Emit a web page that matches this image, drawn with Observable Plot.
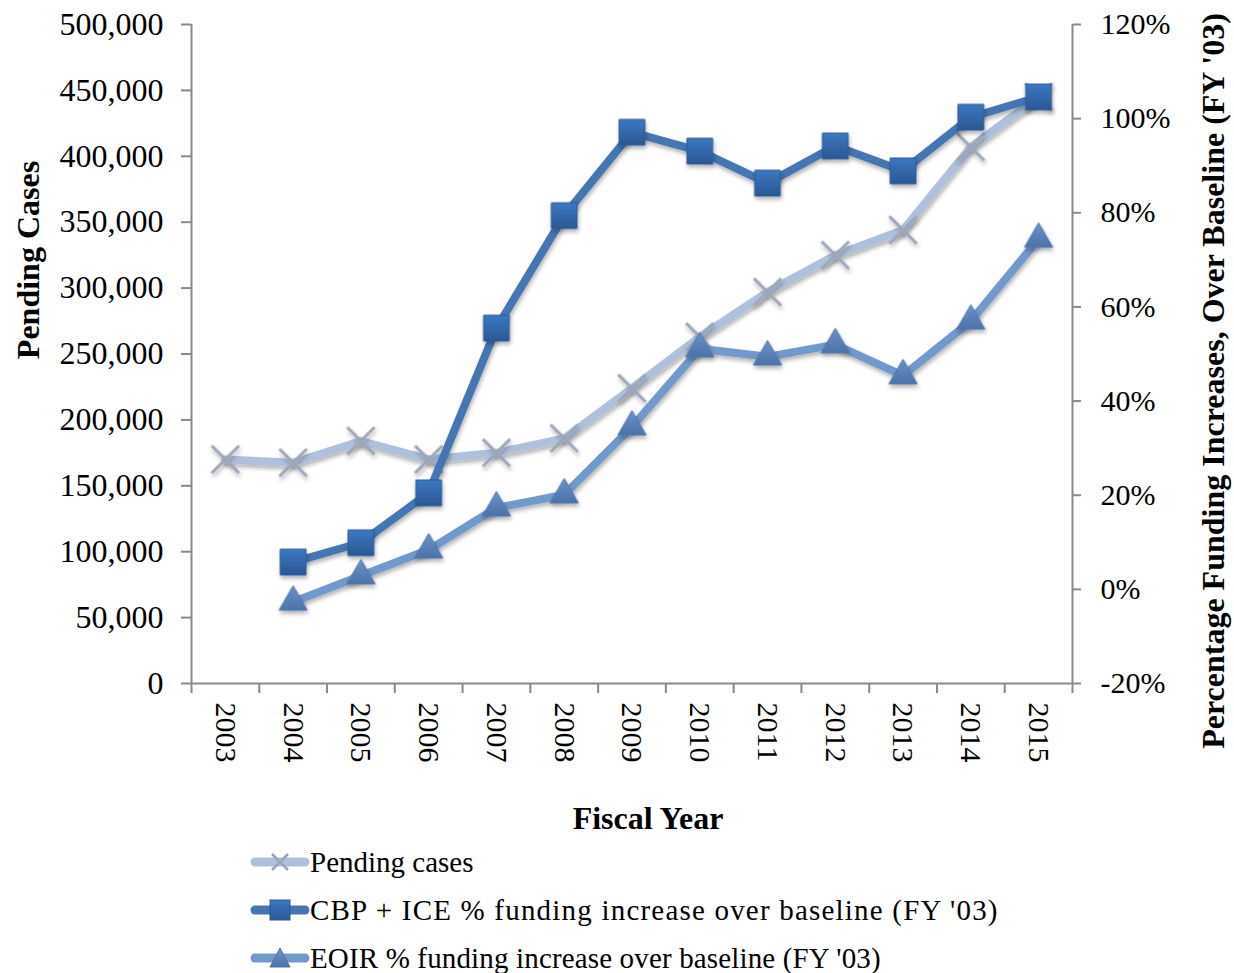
<!DOCTYPE html>
<html>
<head>
<meta charset="utf-8">
<script src="https://cdn.jsdelivr.net/npm/d3@7"></script>
<script src="https://cdn.jsdelivr.net/npm/@observablehq/plot@0.6"></script>
<style>
  html, body { margin: 0; padding: 0; background: #fff; }
  body { font-family: "Liberation Serif", "Times New Roman", serif; }
  #legend { padding-left: 250px; font-size: 29px; color: #000; }
  .row { display: flex; align-items: center; height: 48px; white-space: nowrap; }
  .row svg { display: block; }
</style>
</head>
<body>
<svg width="0" height="0" style="position:absolute">
  <defs>
    <linearGradient id="sqGrad" x1="0" y1="0" x2="0" y2="1">
      <stop offset="0" stop-color="#3c78c2"/>
      <stop offset="1" stop-color="#2b5894"/>
    </linearGradient>
    <linearGradient id="triGrad" x1="0" y1="0" x2="0" y2="1">
      <stop offset="0" stop-color="#6c92c9"/>
      <stop offset="1" stop-color="#4c72aa"/>
    </linearGradient>
    <filter id="shadow" x="-20%" y="-20%" width="140%" height="160%">
      <feDropShadow dx="1" dy="3" stdDeviation="2" flood-color="#000" flood-opacity="0.3"/>
    </filter>
  </defs>
</svg>
<div id="chart"></div>
<div id="legend"></div>
<script>
// ---- Data ----
const years = [2003, 2004, 2005, 2006, 2007, 2008, 2009, 2010, 2011, 2012, 2013, 2014, 2015];
const pendingCases = [170000, 167500, 184000, 170000, 175000, 186000, 224000, 263000, 297000, 325000, 344000, 407000, 445000];
const cbpIcePct = [null, 5.8, 9.9, 20.5, 55.5, 79.4, 97.1, 93.1, 86.3, 94.2, 88.9, 100.3, 104.6];
const eoirPct = [null, -2.7, 2.9, 8.4, 17.3, 20.1, 34.5, 51.1, 49.4, 52.0, 45.4, 57.0, 74.4];
const leftTicks = [0, 50000, 100000, 150000, 200000, 250000, 300000, 350000, 400000, 450000, 500000];
const rightTicks = [-20, 0, 20, 40, 60, 80, 100, 120];
const seriesNames = [
  "Pending cases",
  "CBP + ICE % funding increase over baseline (FY '03)",
  "EOIR % funding increase over baseline (FY '03)"
];

// ---- Dual-axis mapping ----
const leftMax = 500000, pMin = -20, pMax = 120;
const toLeft = p => (p == null ? null : (p - pMin) / (pMax - pMin) * leftMax);
const toPct = v => v / leftMax * (pMax - pMin) + pMin;

const rows = years.map((yr, i) => ({
  year: yr,
  pending: pendingCases[i],
  cbp: toLeft(cbpIcePct[i]),
  eoir: toLeft(eoirPct[i])
}));
const boundaries = d3.range(years[0] - 0.5, years[years.length - 1] + 1, 1);

const cPending = "#aec0dc", cCbp = "#4576b2", cEoir = "#7299cb";
const serif = "'Liberation Serif', 'Times New Roman', serif";

const plot = Plot.plot({
  width: 1234,
  height: 838,
  marginLeft: 191,
  marginRight: 162,
  marginTop: 24,
  marginBottom: 155,
  style: { fontFamily: serif, fontSize: "30px", color: "#000", background: "#fff", overflow: "visible" },
  x: { type: "linear", domain: [boundaries[0], boundaries[boundaries.length - 1]] },
  y: { domain: [0, leftMax] },
  marks: [
    // axis lines
    Plot.ruleY([0], { stroke: "#8a8a8a", strokeWidth: 2 }),
    Plot.ruleX([boundaries[0]], { stroke: "#8a8a8a", strokeWidth: 2 }),
    Plot.ruleX([boundaries[boundaries.length - 1]], { stroke: "#8a8a8a", strokeWidth: 2 }),
    // x ticks at category boundaries
    Plot.axisX(boundaries, { tickSize: 10, tickFormat: () => "", stroke: "#8a8a8a", strokeWidth: 2, label: null }),
    // x year labels
    Plot.axisX(years, { tickSize: 0, tickPadding: 19, tickRotate: 90, tickFormat: d => String(d), label: null, fill: "#000", fontSize: 30 }),
    // left axis
    Plot.axisY(leftTicks, { anchor: "left", tickSize: 10, tickPadding: 18, tickFormat: d3.format(","), stroke: "#8a8a8a", strokeWidth: 2, fill: "#000", label: null, fontSize: 32 }),
    // right axis
    Plot.axisY(rightTicks.map(toLeft), { anchor: "right", tickSize: 8, tickPadding: 20, tickFormat: d => Math.round(toPct(d)) + "%", stroke: "#8a8a8a", strokeWidth: 2, fill: "#000", label: null, fontSize: 30 }),
    // series
    Plot.line(rows, { x: "year", y: "pending", stroke: cPending, strokeWidth: 8, strokeLinejoin: "round", strokeLinecap: "round" }),
    Plot.dot(rows, { x: "year", y: "pending", symbol: "times", r: 12.5, stroke: "#9ca6b8", strokeWidth: 3 }),
    Plot.line(rows, { x: "year", y: "cbp", stroke: cCbp, strokeWidth: 8, strokeLinejoin: "round", strokeLinecap: "round" }),
    Plot.dot(rows.filter(d => d.cbp != null), { x: "year", y: "cbp", symbol: "square", r: 14.5, fill: "url(#sqGrad)", stroke: "#2d5a96", strokeWidth: 1 }),
    Plot.line(rows, { x: "year", y: "eoir", stroke: cEoir, strokeWidth: 8, strokeLinejoin: "round", strokeLinecap: "round" }),
    Plot.dot(rows.filter(d => d.eoir != null), { x: "year", y: "eoir", symbol: "triangle", r: 10.5, fill: "url(#triGrad)", stroke: "#4f74a8", strokeWidth: 1 }),
    // titles
    Plot.text(["Pending Cases"], { frameAnchor: "left", textAnchor: "middle", lineAnchor: "middle", dx: -163, dy: -94, rotate: -90, fontWeight: "bold", fontSize: 32, fill: "#000" }),
    Plot.text(["Percentage Funding Increases, Over Baseline (FY '03)"], { frameAnchor: "right", textAnchor: "middle", lineAnchor: "middle", dx: 141, dy: 27, rotate: -90, fontWeight: "bold", fontSize: 32, fill: "#000" }),
    Plot.text(["Fiscal Year"], { frameAnchor: "bottom", textAnchor: "middle", lineAnchor: "middle", dx: 16, dy: 135, fontWeight: "bold", fontSize: 32, fill: "#000" })
  ]
});
plot.querySelectorAll('g[aria-label="dot"], g[aria-label="line"]').forEach(g => g.setAttribute("filter", "url(#shadow)"));
document.getElementById("chart").appendChild(plot);

// ---- Legend ----
const legend = document.getElementById("legend");
const sw = [
  { color: cPending, spacing: 0, marker: '<path d="M22,7 L38,23 M38,7 L22,23" stroke="#9ca6b8" stroke-width="2.5" fill="none"/>' },
  { color: cCbp, spacing: 1.2, marker: '<rect x="20" y="5" width="20" height="20" fill="url(#sqGrad)" stroke="#2d5a96" stroke-width="1"/>' },
  { color: cEoir, spacing: 0.15, marker: '<path d="M30,5 L40,24 L20,24 Z" fill="url(#triGrad)" stroke="#4f74a8" stroke-width="1"/>' }
];
seriesNames.forEach((name, i) => {
  const row = document.createElement("div");
  row.className = "row";
  row.innerHTML = `<svg width="60" height="30" viewBox="0 0 60 30"><line x1="5" y1="15" x2="55" y2="15" stroke="${sw[i].color}" stroke-width="9" stroke-linecap="round"/>${sw[i].marker}</svg><span style="letter-spacing:${sw[i].spacing}px">${name}</span>`;
  legend.appendChild(row);
});
</script>
</body>
</html>
